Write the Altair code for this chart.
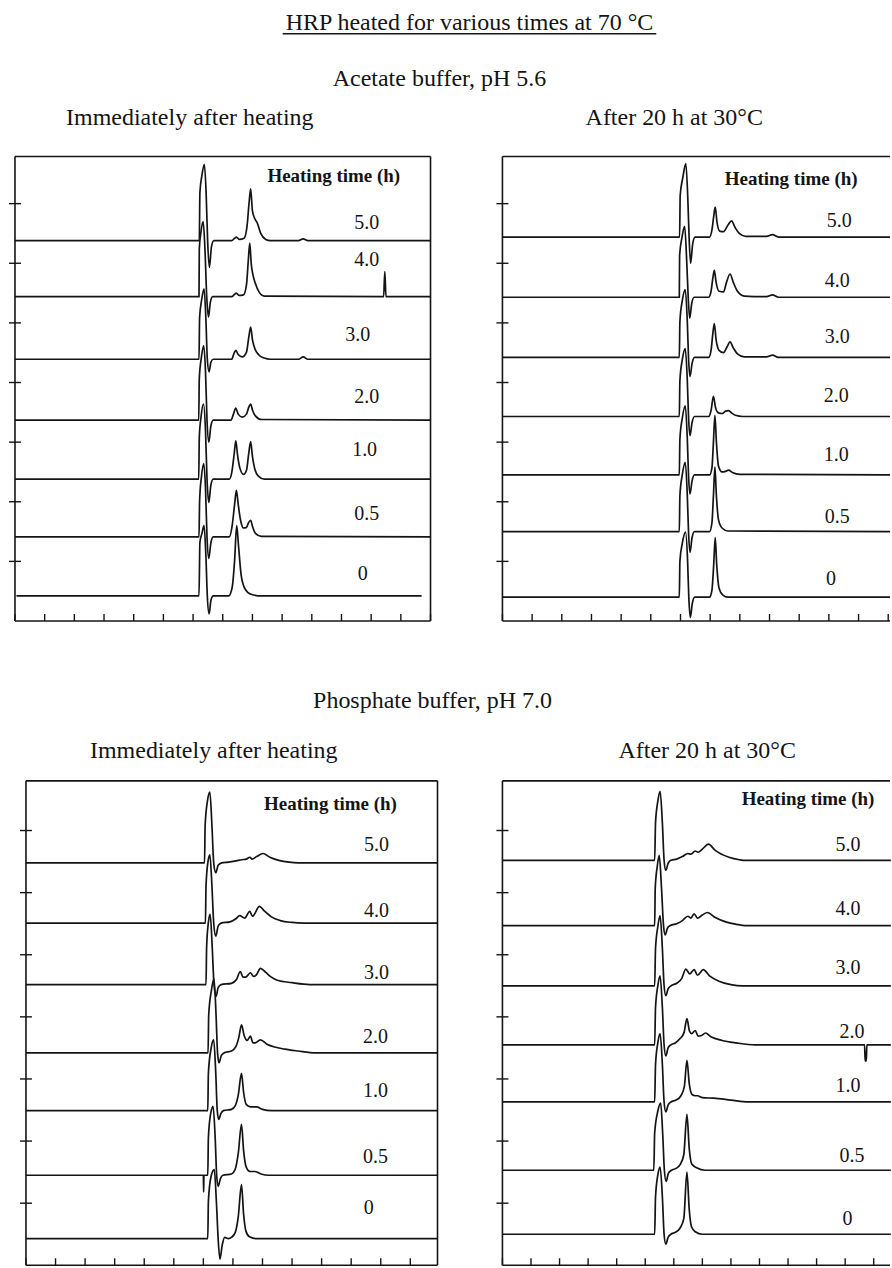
import altair as alt
import pandas as pd

FONT = "Liberation Serif"
INK = "#141414"
LW = 1.7

TRACE_NAMES = ["0", "0.5", "1.0", "2.0", "3.0", "4.0", "5.0"]
Y_TICKS = [1, 2, 3, 4, 5, 6, 7]
HEAD_TEXT = "Heating time (h)"

# ---------------- Acetate buffer, pH 5.6 : immediately after heating ----------------
a_imm_base = [0.42, 1.41, 2.38, 3.37, 4.39, 5.44, 6.38]
a_imm_0 = [[0.05, 0], [6.20, 0], [6.23, 0.9], [6.30, 1.05], [6.37, 1.18], [6.43, 0.7], [6.48, 0], [6.54, -0.30], [6.60, -0.08], [6.68, 0], [7.20, 0], [7.32, 0.15], [7.40, 0.6], [7.47, 1.18], [7.53, 0.85], [7.62, 0.35], [7.75, 0.12], [7.95, 0.03], [8.30, 0], [13.70, 0]]
a_imm_05 = [[0, 0], [6.20, 0], [6.22, 0.6], [6.28, 1.0], [6.36, 1.23], [6.42, 0.8], [6.47, 0], [6.53, -0.36], [6.60, -0.1], [6.68, 0], [7.22, 0], [7.32, 0.2], [7.40, 0.55], [7.46, 0.78], [7.52, 0.55], [7.60, 0.28], [7.70, 0.15], [7.80, 0.16], [7.87, 0.24], [7.94, 0.28], [8.00, 0.18], [8.10, 0.06], [8.30, 0.01], [14.0, 0]]
a_imm_1 = [[0, 0], [6.19, 0], [6.21, 0.7], [6.27, 1.05], [6.35, 1.26], [6.42, 0.8], [6.47, 0], [6.53, -0.39], [6.60, -0.1], [6.68, 0], [7.22, 0], [7.30, 0.1], [7.38, 0.4], [7.44, 0.64], [7.50, 0.4], [7.58, 0.18], [7.70, 0.08], [7.80, 0.15], [7.88, 0.45], [7.94, 0.63], [8.00, 0.38], [8.08, 0.17], [8.20, 0.05], [8.40, 0], [14.0, 0]]
a_imm_2 = [[0, 0], [6.19, 0], [6.21, 0.7], [6.28, 1.05], [6.36, 1.25], [6.42, 0.8], [6.47, 0], [6.53, -0.37], [6.60, -0.1], [6.68, 0], [7.28, 0], [7.36, 0.1], [7.44, 0.2], [7.52, 0.1], [7.66, 0.05], [7.80, 0.1], [7.88, 0.22], [7.94, 0.27], [8.00, 0.17], [8.10, 0.07], [8.30, 0.01], [14.0, 0]]
a_imm_3 = [[0, 0], [6.20, 0], [6.22, 0.7], [6.29, 1.0], [6.37, 1.18], [6.43, 0.7], [6.48, 0], [6.54, -0.21], [6.60, -0.05], [6.68, 0], [7.30, 0], [7.38, 0.1], [7.44, 0.15], [7.52, 0.08], [7.66, 0.04], [7.80, 0.12], [7.88, 0.38], [7.94, 0.54], [8.00, 0.33], [8.08, 0.18], [8.20, 0.08], [8.40, 0.02], [8.60, 0], [9.55, 0], [9.71, 0.04], [9.87, 0], [14.0, 0]]
a_imm_4 = [[0, 0], [6.20, 0], [6.21, 0.8], [6.27, 1.1], [6.34, 1.26], [6.40, 0.8], [6.46, 0], [6.52, -0.34], [6.58, -0.1], [6.66, 0], [7.30, 0], [7.40, 0.04], [7.46, 0.06], [7.55, 0.02], [7.70, 0.03], [7.80, 0.2], [7.86, 0.6], [7.91, 0.9], [7.96, 0.55], [8.02, 0.36], [8.10, 0.22], [8.22, 0.08], [8.40, 0.01], [12.42, 0], [12.46, 0.42], [12.50, 0], [14.0, 0]]
a_imm_5 = [[0, 0], [6.21, 0], [6.23, 0.8], [6.30, 1.1], [6.38, 1.28], [6.44, 0.8], [6.49, 0], [6.55, -0.45], [6.62, -0.1], [6.70, 0], [7.30, 0], [7.40, 0.04], [7.46, 0.06], [7.56, 0.02], [7.72, 0.04], [7.82, 0.25], [7.89, 0.65], [7.94, 0.87], [8.00, 0.5], [8.07, 0.38], [8.16, 0.3], [8.28, 0.12], [8.45, 0.02], [8.60, 0], [9.55, 0], [9.71, 0.03], [9.87, 0], [14.0, 0]]
a_imm_lab_x = [11.72, 11.85, 11.78, 11.85, 11.55, 11.85, 11.85]
a_imm_lab_y = [0.79, 1.79, 2.86, 3.75, 4.79, 6.05, 6.68]
a_imm_head = [10.74, 7.47]

# ---------------- Acetate buffer, pH 5.6 : after 20 h at 30 °C ----------------
a_aft_base = [0.40, 1.50, 2.45, 3.43, 4.42, 5.43, 6.44]
a_aft_0 = [[0, 0], [5.96, 0], [5.98, 0.6], [6.06, 0.9], [6.17, 1.09], [6.24, 0.6], [6.28, 0], [6.33, -0.34], [6.40, -0.1], [6.48, 0], [6.98, 0], [7.06, 0.12], [7.12, 0.55], [7.17, 1.0], [7.22, 0.55], [7.30, 0.15], [7.42, 0.04], [7.60, 0], [13.06, 0]]
a_aft_05 = [[0, 0], [5.96, 0], [5.98, 0.6], [6.06, 0.95], [6.16, 1.16], [6.23, 0.6], [6.27, 0], [6.32, -0.35], [6.39, -0.1], [6.47, 0], [6.98, 0], [7.06, 0.15], [7.11, 0.6], [7.16, 1.08], [7.21, 0.6], [7.28, 0.2], [7.40, 0.06], [7.60, 0.01], [13.06, 0]]
a_aft_1 = [[0, 0], [5.96, 0], [5.98, 0.6], [6.06, 0.95], [6.16, 1.16], [6.23, 0.6], [6.27, 0], [6.32, -0.32], [6.39, -0.1], [6.47, 0], [6.98, 0], [7.06, 0.12], [7.11, 0.55], [7.16, 1.0], [7.21, 0.55], [7.28, 0.15], [7.40, 0.05], [7.52, 0.06], [7.62, 0.08], [7.75, 0.04], [8.00, 0.01], [13.06, 0]]
a_aft_2 = [[0, 0], [5.96, 0], [5.98, 0.6], [6.06, 0.95], [6.16, 1.14], [6.23, 0.6], [6.27, 0], [6.32, -0.32], [6.39, -0.1], [6.47, 0], [6.95, 0], [7.03, 0.1], [7.11, 0.34], [7.18, 0.15], [7.28, 0.06], [7.40, 0.05], [7.52, 0.09], [7.62, 0.1], [7.72, 0.06], [7.85, 0.02], [8.10, 0], [13.06, 0]]
a_aft_3 = [[0, 0], [5.96, 0], [5.98, 0.6], [6.06, 0.95], [6.16, 1.14], [6.23, 0.6], [6.27, 0], [6.32, -0.32], [6.39, -0.1], [6.47, 0], [6.95, 0], [7.03, 0.12], [7.09, 0.4], [7.14, 0.57], [7.20, 0.3], [7.30, 0.12], [7.45, 0.08], [7.57, 0.18], [7.67, 0.26], [7.78, 0.16], [7.92, 0.06], [8.15, 0.01], [8.90, 0.01], [9.10, 0.04], [9.30, 0], [13.06, 0]]
a_aft_4 = [[0, 0], [5.96, 0], [5.97, 0.7], [6.05, 1.0], [6.14, 1.19], [6.21, 0.6], [6.26, 0], [6.31, -0.35], [6.38, -0.1], [6.46, 0], [6.95, 0], [7.03, 0.1], [7.09, 0.32], [7.14, 0.45], [7.20, 0.25], [7.30, 0.1], [7.45, 0.09], [7.55, 0.25], [7.67, 0.39], [7.78, 0.25], [7.92, 0.1], [8.15, 0.02], [8.90, 0.01], [9.10, 0.04], [9.30, 0], [13.06, 0]]
a_aft_5 = [[0, 0], [5.97, 0], [5.99, 0.7], [6.08, 1.0], [6.18, 1.23], [6.25, 0.6], [6.29, 0], [6.34, -0.44], [6.41, -0.12], [6.49, 0], [6.98, 0], [7.06, 0.12], [7.12, 0.35], [7.17, 0.5], [7.23, 0.25], [7.32, 0.1], [7.45, 0.09], [7.60, 0.2], [7.72, 0.27], [7.84, 0.16], [7.98, 0.06], [8.20, 0.01], [8.90, 0.01], [9.10, 0.04], [9.30, 0], [13.06, 0]]
a_aft_lab_x = [11.07, 11.28, 11.25, 11.25, 11.28, 11.28, 11.35]
a_aft_lab_y = [0.71, 1.75, 2.79, 3.78, 4.77, 5.70, 6.71]
a_aft_head = [9.73, 7.42]

# ---------------- Phosphate buffer, pH 7.0 : immediately after heating ----------------
p_imm_base = [0.43, 1.45, 2.49, 3.42, 4.52, 5.51, 6.48]
p_imm_0 = [[0, 0], [6.15, 0], [6.17, 0.6], [6.26, 1.0], [6.37, 1.11], [6.44, 0.6], [6.50, 0], [6.56, -0.33], [6.64, -0.1], [6.72, 0.02], [6.85, 0], [6.95, 0.02], [7.08, 0.1], [7.18, 0.35], [7.29, 0.87], [7.36, 0.4], [7.44, 0.12], [7.56, 0.03], [7.80, 0], [13.92, 0]]
p_imm_05 = [[0, 0], [6.00, 0], [6.01, -0.27], [6.02, 0], [6.15, 0], [6.17, 0.6], [6.25, 1.0], [6.33, 1.11], [6.40, 0.6], [6.45, 0], [6.50, -0.18], [6.58, -0.05], [6.66, 0], [6.95, 0.02], [7.08, 0.1], [7.18, 0.35], [7.29, 0.82], [7.36, 0.4], [7.45, 0.13], [7.58, 0.06], [7.74, 0.06], [7.95, 0.02], [8.20, 0], [13.92, 0]]
p_imm_1 = [[0, 0], [6.15, 0], [6.17, 0.6], [6.26, 1.0], [6.35, 1.14], [6.42, 0.6], [6.47, 0], [6.52, -0.14], [6.60, -0.04], [6.68, 0], [6.95, 0.02], [7.08, 0.08], [7.18, 0.25], [7.29, 0.6], [7.36, 0.3], [7.45, 0.1], [7.60, 0.06], [7.80, 0.06], [8.00, 0.02], [8.30, 0], [13.92, 0]]
p_imm_2 = [[0, 0], [6.16, 0], [6.18, 0.6], [6.27, 1.0], [6.36, 1.19], [6.43, 0.6], [6.48, 0], [6.53, -0.16], [6.61, -0.04], [6.70, 0], [6.95, 0.03], [7.10, 0.1], [7.20, 0.25], [7.29, 0.45], [7.38, 0.28], [7.48, 0.2], [7.59, 0.27], [7.68, 0.16], [7.75, 0.16], [7.93, 0.21], [8.15, 0.14], [8.45, 0.09], [8.75, 0.06], [9.20, 0.03], [9.80, 0], [13.92, 0]]
p_imm_3 = [[0, 0], [6.09, 0], [6.11, 0.6], [6.17, 1.0], [6.23, 1.13], [6.30, 0.6], [6.36, 0], [6.43, -0.19], [6.50, -0.05], [6.60, 0], [6.95, 0.02], [7.12, 0.08], [7.25, 0.21], [7.34, 0.12], [7.43, 0.12], [7.59, 0.19], [7.70, 0.13], [7.80, 0.16], [7.93, 0.26], [8.10, 0.2], [8.30, 0.12], [8.50, 0.07], [9.00, 0.03], [9.60, 0], [13.92, 0]]
p_imm_4 = [[0, 0], [6.07, 0], [6.09, 0.6], [6.16, 1.0], [6.22, 1.10], [6.29, 0.6], [6.35, 0], [6.42, -0.21], [6.50, -0.05], [6.60, 0], [6.90, 0.02], [7.10, 0.07], [7.23, 0.12], [7.40, 0.08], [7.57, 0.19], [7.66, 0.11], [7.90, 0.27], [8.05, 0.2], [8.30, 0.1], [8.60, 0.04], [9.00, 0.01], [9.40, 0], [13.92, 0]]
p_imm_5 = [[0, 0], [6.04, 0], [6.06, 0.6], [6.14, 1.0], [6.22, 1.14], [6.29, 0.6], [6.35, 0], [6.42, -0.16], [6.50, -0.04], [6.62, 0], [6.85, 0.01], [7.10, 0.03], [7.30, 0.05], [7.45, 0.06], [7.57, 0.09], [7.65, 0.06], [7.80, 0.1], [8.02, 0.15], [8.25, 0.09], [8.55, 0.04], [8.90, 0.01], [9.20, 0], [13.92, 0]]
p_imm_lab_x = [11.59, 11.82, 11.82, 11.82, 11.86, 11.86, 11.86]
p_imm_lab_y = [0.93, 1.75, 2.80, 3.67, 4.71, 5.71, 6.77]
p_imm_head = [10.3, 7.43]

# ---------------- Phosphate buffer, pH 7.0 : after 20 h at 30 °C ----------------
p_aft_base = [0.50, 1.53, 2.63, 3.55, 4.50, 5.47, 6.52]
p_aft_0 = [[0, 0], [5.33, 0], [5.36, 0.6], [5.44, 0.95], [5.52, 1.08], [5.60, 0.6], [5.66, 0], [5.72, -0.16], [5.80, -0.05], [5.90, 0], [6.05, 0.03], [6.22, 0.1], [6.35, 0.25], [6.46, 1.0], [6.54, 0.4], [6.62, 0.12], [6.75, 0.04], [7.00, 0], [13.6, 0]]
p_aft_05 = [[0, 0], [5.30, 0], [5.33, 0.6], [5.44, 0.95], [5.54, 1.08], [5.61, 0.6], [5.67, 0], [5.73, -0.18], [5.81, -0.05], [5.92, 0], [6.08, 0.03], [6.22, 0.09], [6.35, 0.25], [6.46, 0.9], [6.54, 0.35], [6.63, 0.1], [6.80, 0.04], [7.10, 0], [13.6, 0]]
p_aft_1 = [[0, 0], [5.33, 0], [5.36, 0.6], [5.44, 0.95], [5.52, 1.1], [5.60, 0.6], [5.66, 0], [5.72, -0.16], [5.80, -0.05], [5.90, 0], [6.08, 0.03], [6.25, 0.1], [6.37, 0.25], [6.46, 0.67], [6.54, 0.3], [6.64, 0.12], [6.75, 0.1], [6.83, 0.1], [7.00, 0.07], [7.40, 0.06], [8.00, 0.03], [8.60, 0], [13.6, 0]]
p_aft_2 = [[0, 0], [5.33, 0], [5.36, 0.6], [5.44, 0.95], [5.52, 1.11], [5.60, 0.6], [5.66, 0], [5.72, -0.18], [5.80, -0.05], [5.90, 0], [6.05, 0.03], [6.22, 0.1], [6.36, 0.2], [6.46, 0.42], [6.55, 0.22], [6.63, 0.18], [6.75, 0.23], [6.85, 0.14], [6.97, 0.15], [7.11, 0.19], [7.30, 0.13], [7.69, 0.07], [8.20, 0.03], [8.85, 0], [12.68, 0], [12.70, -0.26], [12.74, -0.26], [12.76, 0], [13.6, 0]]
p_aft_3 = [[0, 0], [5.33, 0], [5.36, 0.6], [5.44, 0.95], [5.52, 1.13], [5.60, 0.6], [5.66, 0], [5.72, -0.16], [5.80, -0.05], [5.90, 0], [6.10, 0.04], [6.28, 0.12], [6.42, 0.27], [6.56, 0.19], [6.71, 0.26], [6.83, 0.17], [7.03, 0.26], [7.25, 0.16], [7.60, 0.07], [8.00, 0.02], [8.40, 0], [13.6, 0]]
p_aft_4 = [[0, 0], [5.33, 0], [5.35, 0.6], [5.42, 0.95], [5.49, 1.13], [5.57, 0.6], [5.64, 0], [5.70, -0.15], [5.78, -0.04], [5.88, 0], [6.10, 0.03], [6.30, 0.08], [6.49, 0.15], [6.60, 0.12], [6.71, 0.19], [6.83, 0.12], [7.00, 0.17], [7.18, 0.21], [7.45, 0.13], [7.82, 0.06], [8.20, 0.02], [8.50, 0], [13.6, 0]]
p_aft_5 = [[0, 0], [5.33, 0], [5.36, 0.6], [5.44, 0.95], [5.52, 1.11], [5.60, 0.6], [5.66, 0], [5.72, -0.16], [5.80, -0.05], [5.90, 0], [6.10, 0.02], [6.30, 0.06], [6.49, 0.11], [6.60, 0.1], [6.75, 0.15], [6.85, 0.13], [7.00, 0.18], [7.21, 0.26], [7.45, 0.16], [7.93, 0.05], [8.30, 0.01], [8.50, 0], [13.6, 0]]
p_aft_lab_x = [12.08, 12.24, 12.1, 12.24, 12.1, 12.1, 12.1]
p_aft_lab_y = [0.74, 1.76, 2.89, 3.76, 4.79, 5.73, 6.76]
p_aft_head = [10.7, 7.5]

ONE = pd.DataFrame({"k": [0]})


def hline(x0, x1, y, width=1.6, color=INK):
    return alt.Chart(ONE).mark_rule(color=color, strokeWidth=width).encode(
        x=alt.value(x0), x2=alt.value(x1), y=alt.value(y))


def vline(x, y0, y1, width=1.6, color=INK):
    return alt.Chart(ONE).mark_rule(color=color, strokeWidth=width).encode(
        x=alt.value(x), y=alt.value(y0), y2=alt.value(y1))


def label(text, x, y, size=24, weight="normal"):
    return alt.Chart(ONE).mark_text(
        text=text, font=FONT, fontSize=size, fontWeight=weight, color=INK,
        align="center", baseline="alphabetic").encode(x=alt.value(x), y=alt.value(y))


def panel(base, traces, lab_x, lab_y, head, W, H, xmax, ymax, right_border, extras, left=0):
    rows = []
    for name, b, pts in zip(TRACE_NAMES, base, traces):
        for i, (x, dy) in enumerate(pts):
            rows.append({"trace": name, "i": i, "x": x, "y": b + dy})
    df = pd.DataFrame(rows)
    # the frame starts 'left' pixels inside the cell; data x = 0 sits on it
    xmin = -left * xmax / (W - left) if left else 0
    xs = alt.Scale(domain=[xmin, xmax], nice=False, zero=False)
    ys = alt.Scale(domain=[0, ymax], nice=False, zero=False)

    lines = alt.Chart(df).mark_line(
        color=INK, strokeWidth=LW, strokeJoin="round", interpolate="monotone"
    ).encode(
        x=alt.X("x:Q", scale=xs, axis=None),
        y=alt.Y("y:Q", scale=ys, axis=None),
        detail="trace:N",
        order="i:Q",
    )
    labs = alt.Chart(pd.DataFrame({"t": TRACE_NAMES, "x": lab_x, "y": lab_y})).mark_text(
        font=FONT, fontSize=20, color=INK, align="center", baseline="middle"
    ).encode(x=alt.X("x:Q", scale=xs, axis=None), y=alt.Y("y:Q", scale=ys, axis=None), text="t:N")
    hd = alt.Chart(pd.DataFrame({"t": [HEAD_TEXT], "x": [head[0]], "y": [head[1]]})).mark_text(
        font=FONT, fontSize=19, fontWeight="bold", color=INK, align="center", baseline="middle"
    ).encode(x=alt.X("x:Q", scale=xs, axis=None), y=alt.Y("y:Q", scale=ys, axis=None), text="t:N")
    yt = alt.Chart(pd.DataFrame({"v": Y_TICKS})).mark_rule(color=INK, strokeWidth=1.4).encode(
        y=alt.Y("v:Q", scale=ys, axis=None), x=alt.value(left - 6), x2=alt.value(left + 6))
    xt = alt.Chart(pd.DataFrame({"u": list(range(0, int(xmax) + 1))})).mark_rule(
        color=INK, strokeWidth=1.4).encode(
        x=alt.X("u:Q", scale=xs, axis=None), y=alt.value(H), y2=alt.value(H - 7))
    layers = [lines, labs, hd, yt, xt,
              hline(left, W, 0), vline(left, 0, H), hline(left, W, H)]
    if right_border:
        layers.append(vline(W, 0, H))
    layers += extras
    return alt.layer(*layers).properties(width=W, height=H)


p1 = panel(a_imm_base, [a_imm_0, a_imm_05, a_imm_1, a_imm_2, a_imm_3, a_imm_4, a_imm_5],
           a_imm_lab_x, a_imm_lab_y, a_imm_head, 416, 465, 14.0, 7.79, True,
           [hline(-14.5, -12, -155.5, width=1, color="white"),
            label("HRP heated for various times at 70 °C", 455, -127),
            hline(268, 642, -123, width=1.5),
            label("Acetate buffer, pH 5.6", 425, -71),
            label("Immediately after heating", 175, -32)])
p2 = panel(a_aft_base, [a_aft_0, a_aft_05, a_aft_1, a_aft_2, a_aft_3, a_aft_4, a_aft_5],
           a_aft_lab_x, a_aft_lab_y, a_aft_head, 388, 465, 13.06, 7.79, False,
           [label("After 20 h at 30°C", 172, -32)])
p3 = panel(p_imm_base, [p_imm_0, p_imm_05, p_imm_1, p_imm_2, p_imm_3, p_imm_4, p_imm_5],
           p_imm_lab_x, p_imm_lab_y, p_imm_head, 423, 485, 13.92, 7.8, True,
           [label("Phosphate buffer, pH 7.0", 418, -73),
            label("Immediately after heating", 199, -23)], left=11)
p4 = panel(p_aft_base, [p_aft_0, p_aft_05, p_aft_1, p_aft_2, p_aft_3, p_aft_4, p_aft_5],
           p_aft_lab_x, p_aft_lab_y, p_aft_head, 388, 485, 13.57, 7.8, False,
           [label("After 20 h at 30°C", 205, -23)])

chart = alt.concat(
    p1, p2, p3, p4, columns=2, spacing={"row": 160, "column": 65}, bounds="flush"
).properties(
    padding=0, background="white"
).configure_view(stroke="transparent", strokeWidth=0)

chart.save("out.html", embed_options={"renderer": "svg", "actions": False})
